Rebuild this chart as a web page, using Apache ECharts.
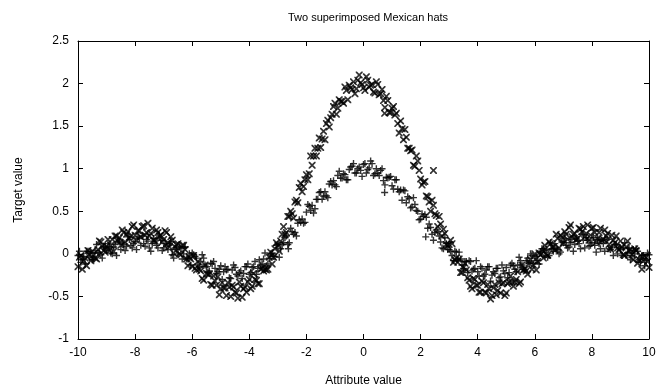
<!DOCTYPE html>
<html>
<head>
<meta charset="utf-8">
<script src="https://cdn.jsdelivr.net/npm/echarts@6/dist/echarts.min.js"></script>
<style>
  html, body { margin: 0; padding: 0; background: #fff; }
  #chart { width: 659px; height: 392px; }
</style>
</head>
<body>
<div id="chart"></div>
<script>
// attribute values, first pass (whole tenths)
const attrValues = [
  -10, -9.9, -9.8, -9.7, -9.6, -9.5, -9.4, -9.3, -9.2, -9.1,
  -9, -8.9, -8.8, -8.7, -8.6, -8.5, -8.4, -8.3, -8.2, -8.1,
  -8, -7.9, -7.8, -7.7, -7.6, -7.5, -7.4, -7.3, -7.2, -7.1,
  -7, -6.9, -6.8, -6.7, -6.6, -6.5, -6.4, -6.3, -6.2, -6.1,
  -6, -5.9, -5.8, -5.7, -5.6, -5.5, -5.4, -5.3, -5.2, -5.1,
  -5, -4.9, -4.8, -4.7, -4.6, -4.5, -4.4, -4.3, -4.2, -4.1,
  -4, -3.9, -3.8, -3.7, -3.6, -3.5, -3.4, -3.3, -3.2, -3.1,
  -3, -2.9, -2.8, -2.7, -2.6, -2.5, -2.4, -2.3, -2.2, -2.1,
  -2, -1.9, -1.8, -1.7, -1.6, -1.5, -1.4, -1.3, -1.2, -1.1,
  -1, -0.9, -0.8, -0.7, -0.6, -0.5, -0.4, -0.3, -0.2, -0.1,
  0, 0.1, 0.2, 0.3, 0.4, 0.5, 0.6, 0.7, 0.8, 0.9,
  1, 1.1, 1.2, 1.3, 1.4, 1.5, 1.6, 1.7, 1.8, 1.9,
  2, 2.1, 2.2, 2.3, 2.4, 2.5, 2.6, 2.7, 2.8, 2.9,
  3, 3.1, 3.2, 3.3, 3.4, 3.5, 3.6, 3.7, 3.8, 3.9,
  4, 4.1, 4.2, 4.3, 4.4, 4.5, 4.6, 4.7, 4.8, 4.9,
  5, 5.1, 5.2, 5.3, 5.4, 5.5, 5.6, 5.7, 5.8, 5.9,
  6, 6.1, 6.2, 6.3, 6.4, 6.5, 6.6, 6.7, 6.8, 6.9,
  7, 7.1, 7.2, 7.3, 7.4, 7.5, 7.6, 7.7, 7.8, 7.9,
  8, 8.1, 8.2, 8.3, 8.4, 8.5, 8.6, 8.7, 8.8, 8.9,
  9, 9.1, 9.2, 9.3, 9.4, 9.5, 9.6, 9.7, 9.8, 9.9,
  10
]

// attribute values, second pass (between the tenths)
const attrValuesMid = [
  -9.95, -9.85, -9.75, -9.65, -9.55, -9.45, -9.35, -9.25, -9.15, -9.05,
  -8.95, -8.85, -8.75, -8.65, -8.55, -8.45, -8.35, -8.25, -8.15, -8.05,
  -7.95, -7.85, -7.75, -7.65, -7.55, -7.45, -7.35, -7.25, -7.15, -7.05,
  -6.95, -6.85, -6.75, -6.65, -6.55, -6.45, -6.35, -6.25, -6.15, -6.05,
  -5.95, -5.85, -5.75, -5.65, -5.55, -5.45, -5.35, -5.25, -5.15, -5.05,
  -4.95, -4.85, -4.75, -4.65, -4.55, -4.45, -4.35, -4.25, -4.15, -4.05,
  -3.95, -3.85, -3.75, -3.65, -3.55, -3.45, -3.35, -3.25, -3.15, -3.05,
  -2.95, -2.85, -2.75, -2.65, -2.55, -2.45, -2.35, -2.25, -2.15, -2.05,
  -1.95, -1.85, -1.75, -1.65, -1.55, -1.45, -1.35, -1.25, -1.15, -1.05,
  -0.95, -0.85, -0.75, -0.65, -0.55, -0.45, -0.35, -0.25, -0.15, -0.05,
  0.05, 0.15, 0.25, 0.35, 0.45, 0.55, 0.65, 0.75, 0.85, 0.95,
  1.05, 1.15, 1.25, 1.35, 1.45, 1.55, 1.65, 1.75, 1.85, 1.95,
  2.05, 2.15, 2.25, 2.35, 2.45, 2.55, 2.65, 2.75, 2.85, 2.95,
  3.05, 3.15, 3.25, 3.35, 3.45, 3.55, 3.65, 3.75, 3.85, 3.95,
  4.05, 4.15, 4.25, 4.35, 4.45, 4.55, 4.65, 4.75, 4.85, 4.95,
  5.05, 5.15, 5.25, 5.35, 5.45, 5.55, 5.65, 5.75, 5.85, 5.95,
  6.05, 6.15, 6.25, 6.35, 6.45, 6.55, 6.65, 6.75, 6.85, 6.95,
  7.05, 7.15, 7.25, 7.35, 7.45, 7.55, 7.65, 7.75, 7.85, 7.95,
  8.05, 8.15, 8.25, 8.35, 8.45, 8.55, 8.65, 8.75, 8.85, 8.95,
  9.05, 9.15, 9.25, 9.35, 9.45, 9.55, 9.65, 9.75, 9.85, 9.95
]

// small hat ("+"), first pass
const smallHat = [
  -0.02, -0.10, -0.03, 0.03, -0.04, -0.07, 0.04, 0.01, -0.01, 0.09,
  0.04, 0.08, 0.00, 0.11, 0.15, 0.05, 0.11, 0.09, 0.17, 0.07,
  0.14, 0.20, 0.10, 0.12, 0.17, 0.07, 0.12, 0.15, 0.07, 0.16,
  0.07, 0.09, 0.12, -0.01, 0.07, 0.00, 0.06, 0.00, -0.06, 0.00,
  0.01, -0.03, -0.13, -0.09, -0.05, -0.15, -0.20, -0.12, -0.17, -0.21,
  -0.14, -0.21, -0.19, -0.28, -0.19, -0.16, -0.26, -0.20, -0.23, -0.15,
  -0.24, -0.16, -0.09, -0.17, -0.13, -0.06, -0.14, -0.05, 0.01, -0.03,
  0.11, 0.06, 0.13, 0.21, 0.13, 0.26, 0.25, 0.36, 0.37, 0.36,
  0.49, 0.56, 0.57, 0.53, 0.64, 0.73, 0.68, 0.68, 0.82, 0.81,
  0.81, 0.92, 0.89, 0.94, 0.87, 0.99, 1.03, 0.95, 1.00, 0.98,
  1.05, 0.95, 1.01, 1.06, 0.94, 0.95, 0.98, 0.86, 0.90, 0.90,
  0.80, 0.87, 0.76, 0.75, 0.75, 0.60, 0.65, 0.55, 0.58, 0.50,
  0.41, 0.44, 0.43, 0.35, 0.23, 0.25, 0.26, 0.14, 0.06, 0.12,
  0.05, -0.02, 0.03, -0.06, -0.06, -0.17, -0.09, -0.08, -0.20, -0.17,
  -0.21, -0.15, -0.26, -0.19, -0.15, -0.25, -0.23, -0.17, -0.27, -0.20,
  -0.16, -0.22, -0.11, -0.18, -0.13, -0.08, -0.18, -0.08, -0.11, -0.02,
  -0.05, -0.08, 0.02, 0.06, 0.05, -0.02, 0.06, 0.12, 0.05, 0.02,
  0.13, 0.10, 0.08, 0.17, 0.11, 0.15, 0.06, 0.16, 0.19, 0.09,
  0.13, 0.10, 0.17, 0.06, 0.12, 0.16, 0.06, 0.07, 0.11, 0.00,
  0.05, 0.07, -0.02, 0.07, -0.02, 0.00, 0.03, -0.10, -0.02, -0.08,
  -0.01
]

// small hat ("+"), second pass
const smallHatMid = [
  0.03, -0.07, -0.12, 0.03, 0.01, -0.06, 0.11, 0.01, -0.05, 0.08,
  0.12, 0.01, 0.08, -0.02, 0.15, 0.13, 0.04, 0.20, 0.10, 0.12,
  0.05, 0.18, 0.21, 0.09, 0.15, 0.03, 0.18, 0.10, 0.21, 0.04,
  0.12, 0.05, 0.14, -0.05, 0.05, 0.08, -0.06, 0.08, -0.05, -0.13,
  -0.01, -0.05, -0.15, -0.01, -0.13, -0.22, -0.11, -0.09, -0.23, -0.18,
  -0.30, -0.15, -0.18, -0.29, -0.13, -0.24, -0.22, -0.29, -0.15, -0.12,
  -0.22, -0.15, -0.24, -0.07, -0.12, 0.01, -0.12, 0.00, -0.03, 0.10,
  -0.04, 0.11, 0.19, 0.11, 0.30, 0.23, 0.21, 0.40, 0.41, 0.37,
  0.58, 0.51, 0.48, 0.64, 0.72, 0.64, 0.73, 0.66, 0.85, 0.86,
  0.79, 0.97, 0.89, 0.93, 0.87, 1.02, 1.06, 0.95, 1.02, 0.91,
  1.06, 0.99, 1.09, 0.92, 1.00, 0.92, 1.00, 0.81, 0.89, 0.91,
  0.76, 0.87, 0.73, 0.63, 0.74, 0.67, 0.54, 0.66, 0.51, 0.40,
  0.47, 0.46, 0.30, 0.31, 0.16, 0.28, 0.21, 0.07, 0.19, 0.05,
  0.03, -0.08, 0.02, 0.02, -0.13, -0.09, -0.22, -0.09, -0.18, -0.08,
  -0.26, -0.17, -0.24, -0.15, -0.32, -0.21, -0.17, -0.28, -0.13, -0.23,
  -0.28, -0.13, -0.14, -0.21, -0.04, -0.13, -0.19, -0.05, 0.00, -0.11,
  -0.03, -0.12, 0.06, 0.04, -0.04, 0.13, 0.03, 0.07, 0.00, 0.14,
  0.18, 0.07, 0.13, 0.03, 0.18, 0.12, 0.23, 0.07, 0.16, 0.10,
  0.19, 0.02, 0.12, 0.16, 0.03, 0.17, 0.05, -0.02, 0.11, 0.07,
  -0.02, 0.13, 0.01, -0.07, 0.04, 0.06, -0.07, -0.02, -0.14, 0.01
]

// big hat ("x"), first pass
const bigHat = [
  -0.15, -0.02, -0.08, -0.14, -0.01, 0.03, -0.05, 0.05, 0.14, 0.04,
  0.09, 0.04, 0.17, 0.21, 0.15, 0.10, 0.25, 0.23, 0.18, 0.32,
  0.22, 0.27, 0.20, 0.33, 0.25, 0.21, 0.30, 0.15, 0.25, 0.22,
  0.17, 0.25, 0.08, 0.16, 0.08, 0.12, -0.01, 0.10, -0.06, -0.04,
  -0.15, -0.17, -0.09, -0.20, -0.31, -0.23, -0.24, -0.37, -0.32, -0.27,
  -0.41, -0.40, -0.49, -0.39, -0.37, -0.45, -0.52, -0.38, -0.41, -0.45,
  -0.30, -0.38, -0.30, -0.35, -0.18, -0.20, -0.19, -0.04, -0.12, 0.06,
  0.10, 0.15, 0.32, 0.25, 0.44, 0.47, 0.61, 0.60, 0.83, 0.79,
  0.93, 0.94, 1.04, 1.24, 1.24, 1.25, 1.44, 1.53, 1.49, 1.64,
  1.77, 1.71, 1.79, 1.77, 1.92, 1.98, 1.93, 1.88, 2.04, 2.01,
  1.95, 2.08, 1.96, 1.99, 1.89, 1.99, 1.88, 1.80, 1.85, 1.66,
  1.71, 1.63, 1.53, 1.56, 1.34, 1.37, 1.24, 1.22, 1.03, 1.09,
  0.88, 0.84, 0.68, 0.61, 0.63, 0.47, 0.32, 0.35, 0.29, 0.11,
  0.11, 0.12, -0.07, -0.10, -0.22, -0.16, -0.19, -0.31, -0.41, -0.30,
  -0.37, -0.45, -0.34, -0.46, -0.41, -0.49, -0.36, -0.43, -0.46, -0.34,
  -0.46, -0.33, -0.33, -0.33, -0.21, -0.33, -0.19, -0.20, -0.11, -0.18,
  0.00, -0.09, -0.01, -0.05, 0.00, 0.14, 0.08, 0.04, 0.18, 0.22,
  0.13, 0.23, 0.31, 0.20, 0.24, 0.18, 0.29, 0.32, 0.24, 0.16,
  0.30, 0.25, 0.18, 0.30, 0.17, 0.21, 0.11, 0.22, 0.13, 0.07,
  0.15, -0.01, 0.08, 0.04, -0.01, 0.06, -0.11, -0.02, -0.08, -0.04,
  -0.16
]

// big hat ("x"), second pass
const bigHatMid = [
  -0.04, -0.18, -0.05, 0.04, -0.08, -0.01, -0.06, 0.15, 0.09, 0.02,
  0.17, 0.10, 0.03, 0.21, 0.19, 0.28, 0.14, 0.26, 0.21, 0.34,
  0.16, 0.27, 0.32, 0.22, 0.36, 0.24, 0.16, 0.28, 0.21, 0.14,
  0.27, 0.13, 0.20, 0.01, 0.11, 0.00, 0.10, 0.05, -0.14, -0.06,
  -0.02, -0.19, -0.18, -0.29, -0.13, -0.24, -0.36, -0.26, -0.37, -0.48,
  -0.34, -0.40, -0.34, -0.50, -0.39, -0.46, -0.33, -0.51, -0.39, -0.33,
  -0.41, -0.23, -0.31, -0.35, -0.17, -0.18, -0.18, 0.02, -0.04, 0.13,
  0.03, 0.23, 0.23, 0.44, 0.50, 0.42, 0.63, 0.78, 0.73, 0.87,
  0.87, 1.15, 1.15, 1.15, 1.36, 1.35, 1.34, 1.57, 1.60, 1.73,
  1.64, 1.81, 1.79, 1.96, 1.81, 1.95, 2.02, 1.94, 2.10, 1.99,
  1.92, 2.04, 1.98, 1.90, 2.02, 1.87, 1.93, 1.72, 1.80, 1.66,
  1.73, 1.65, 1.42, 1.47, 1.46, 1.24, 1.21, 1.04, 1.15, 0.98,
  0.81, 0.85, 0.67, 0.50, 0.57, 0.45, 0.44, 0.21, 0.24, 0.10,
  0.16, -0.10, -0.05, -0.06, -0.22, -0.11, -0.28, -0.38, -0.29, -0.37,
  -0.45, -0.32, -0.45, -0.36, -0.53, -0.40, -0.48, -0.34, -0.35, -0.49,
  -0.35, -0.26, -0.38, -0.30, -0.35, -0.13, -0.18, -0.24, -0.07, -0.13,
  -0.19, 0.01, 0.00, 0.10, -0.02, 0.12, 0.08, 0.23, 0.07, 0.20,
  0.26, 0.17, 0.34, 0.23, 0.17, 0.30, 0.26, 0.20, 0.34, 0.22,
  0.31, 0.14, 0.25, 0.16, 0.28, 0.24, 0.06, 0.16, 0.21, 0.05,
  0.08, -0.02, 0.15, 0.05, -0.07, 0.04, -0.07, -0.18, -0.03, -0.09
]

// a few stray points
const smallStrayX = [-2.63, 0.74, 2.18]
const smallStrayY = [0.06, 0.72, 0.20]
const bigStrayX = [0.74, 2.45]
const bigStrayY = [1.65, 0.98]

// gnuplot-like point shapes, filled outlines so they stay crisp
const plusPath = 'path://M2.8,0 L4.2,0 L4.2,2.8 L7,2.8 L7,4.2 L4.2,4.2 L4.2,7 L2.8,7 L2.8,4.2 L0,4.2 L0,2.8 L2.8,2.8 Z'
const crossPath = 'path://M0,0 L1.2,0 L3.5,2.3 L5.8,0 L7,0 L7,1.2 L4.7,3.5 L7,5.8 L7,7 L5.8,7 L3.5,4.7 L1.2,7 L0,7 L0,5.8 L2.3,3.5 L0,1.2 Z'

const toPairs = (xs, ys) => xs.map((x, i) => [x, ys[i]])

const fontFamily = '"Liberation Sans", Arial, sans-serif'

const axisLine = { show: true, onZero: false, lineStyle: { color: '#000', width: 1 } }
const axisTick = { show: true, inside: true, length: 5, lineStyle: { color: '#000' } }

const chart = echarts.init(document.getElementById('chart'), null, { renderer: 'canvas' })

chart.setOption({
  animation: false,
  backgroundColor: '#fff',
  title: {
    text: 'Two superimposed Mexican hats',
    left: 363,
    top: 7,
    textAlign: 'center',
    textStyle: { fontFamily, fontSize: 11, fontWeight: 'normal', color: '#000' }
  },
  grid: { left: 78, right: 10, top: 41, bottom: 53 },
  xAxis: [
    {
      type: 'value', min: -10, max: 10, interval: 2,
      name: 'Attribute value', nameLocation: 'middle', nameGap: 36,
      nameTextStyle: { fontFamily, fontSize: 12, color: '#000' },
      axisLine, axisTick,
      axisLabel: { fontFamily, fontSize: 12, color: '#000', margin: 8 },
      splitLine: { show: false }
    },
    {
      type: 'value', position: 'top', min: -10, max: 10, interval: 2,
      axisLine, axisTick, axisLabel: { show: false }, splitLine: { show: false }
    }
  ],
  yAxis: [
    {
      type: 'value', min: -1, max: 2.5, interval: 0.5,
      name: 'Target value', nameLocation: 'middle', nameGap: 53,
      nameTextStyle: { fontFamily, fontSize: 12, color: '#000' },
      axisLine, axisTick,
      axisLabel: { fontFamily, fontSize: 12, color: '#000', margin: 9 },
      splitLine: { show: false }
    },
    {
      type: 'value', position: 'right', min: -1, max: 2.5, interval: 0.5,
      axisLine, axisTick, axisLabel: { show: false }, splitLine: { show: false }
    }
  ],
  series: [
    {
      name: 'small hat',
      type: 'scatter',
      symbol: plusPath,
      symbolSize: 7,
      itemStyle: { color: '#000' },
      data: toPairs(attrValues, smallHat)
        .concat(toPairs(attrValuesMid, smallHatMid))
        .concat(toPairs(smallStrayX, smallStrayY))
    },
    {
      name: 'big hat',
      type: 'scatter',
      symbol: crossPath,
      symbolSize: 7,
      itemStyle: { color: '#000' },
      data: toPairs(attrValues, bigHat)
        .concat(toPairs(attrValuesMid, bigHatMid))
        .concat(toPairs(bigStrayX, bigStrayY))
    }
  ]
})
</script>
</body>
</html>
